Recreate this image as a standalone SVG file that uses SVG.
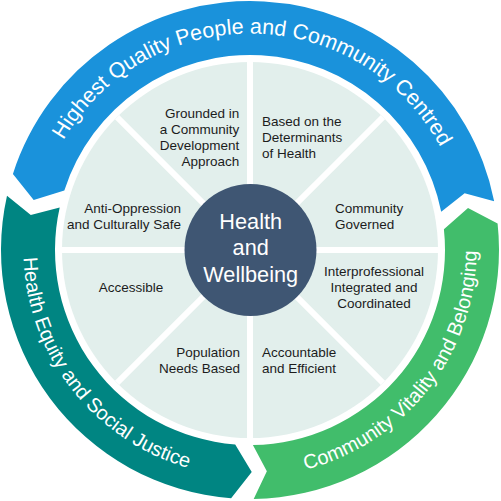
<svg xmlns="http://www.w3.org/2000/svg" width="501" height="501" viewBox="0 0 501 501">
<style>
.lbl{font-family:"Liberation Sans",Arial,sans-serif;font-size:13.5px;fill:#1c1c1c}
.ring{font-family:"Liberation Sans",Arial,sans-serif;fill:#ffffff}
.rb{font-size:21.5px}
.rs{font-size:20px}
.ctr{font-family:"Liberation Sans",Arial,sans-serif;font-size:21.7px;fill:#ffffff;text-anchor:middle}
.div{stroke:#ffffff;stroke-width:6}
</style>
<defs>
<path id="tpBlue" d="M 37.48 208.69 A 216.5 216.5 0 0 1 463.83 216.13"/>
<path id="tpTeal" d="M 57.92 129.97 A 226.5 226.5 0 0 0 319.99 465.41"/>
<path id="tpGreen" d="M 180.01 465.41 A 226.5 226.5 0 0 0 442.08 129.97"/>
</defs>
<rect width="501" height="501" fill="#ffffff"/>
<g id="ring-blue">
<path fill="#1a92db" d="M 494.17 201.21 A 249 249 0 0 0 12.92 173.88 L 33.69 200.06 L 64.33 190.39 A 195 195 0 0 1 441.22 211.79 L 464.63 193.29 Z"/>
<text class="ring rb"><textPath href="#tpBlue" startOffset="73.47">Highest</textPath></text>
<text class="ring rb"><textPath href="#tpBlue" startOffset="152.33">Quality</textPath></text>
<text class="ring rb"><textPath href="#tpBlue" startOffset="225.22">People</textPath></text>
<text class="ring rb"><textPath href="#tpBlue" startOffset="298.12">and</textPath></text>
<text class="ring rb"><textPath href="#tpBlue" startOffset="339.96">Community</textPath></text>
<text class="ring rb"><textPath href="#tpBlue" startOffset="454.64">Centred</textPath></text>
</g>
<g id="ring-teal">
<path fill="#008582" d="M 7.00 195.68 A 249 249 0 0 0 231.11 498.28 L 251.74 471.99 L 235.21 444.44 A 195 195 0 0 1 59.70 207.46 L 30.79 214.89 Z"/>
<text class="ring rs"><textPath href="#tpTeal" startOffset="133.88">Health</textPath></text>
<text class="ring rs"><textPath href="#tpTeal" startOffset="197.24">Equity</textPath></text>
<text class="ring rs"><textPath href="#tpTeal" startOffset="258.38">and</textPath></text>
<text class="ring rs"><textPath href="#tpTeal" startOffset="297.30">Social</textPath></text>
<text class="ring rs"><textPath href="#tpTeal" startOffset="357.32">Justice</textPath></text>
</g>
<g id="ring-green">
<path fill="#41bd6b" d="M 253.69 498.97 A 249 249 0 0 0 497.59 223.54 L 468.0 208.02 L 443.90 229.28 A 195 195 0 0 1 252.89 444.98 L 266.84 471.36 Z"/>
<text class="ring rs"><textPath href="#tpGreen" startOffset="127.22">Community</textPath></text>
<text class="ring rs"><textPath href="#tpGreen" startOffset="233.90">Vitality</textPath></text>
<text class="ring rs"><textPath href="#tpGreen" startOffset="298.36">and</textPath></text>
<text class="ring rs"><textPath href="#tpGreen" startOffset="337.28">Belonging</textPath></text>
</g>
<g id="wheel">
<circle cx="250" cy="250" r="188" fill="#e2efec"/>
</g>
<g id="dividers">
<line class="div" x1="250" y1="62" x2="250" y2="438"/>
<line class="div" x1="62" y1="250" x2="438" y2="250"/>
<line class="div" x1="117.06" y1="117.06" x2="382.94" y2="382.94"/>
<line class="div" x1="382.94" y1="117.06" x2="117.06" y2="382.94"/>
</g>
<g id="seg-grounded">
<text class="lbl" text-anchor="end"><tspan x="239.3" y="118.3">Grounded in</tspan><tspan x="239.3" y="134.3">a Community</tspan><tspan x="239.3" y="150">Development</tspan><tspan x="239.3" y="165.7">Approach</tspan></text>
</g>
<g id="seg-determinants">
<text class="lbl"><tspan x="262" y="125.7">Based on the</tspan><tspan x="262" y="141.7">Determinants</tspan><tspan x="262" y="157.7">of Health</tspan></text>
</g>
<g id="seg-governed">
<text class="lbl"><tspan x="335" y="213.3">Community</tspan><tspan x="335" y="229.3">Governed</tspan></text>
</g>
<g id="seg-interprofessional">
<text class="lbl" text-anchor="middle"><tspan x="374" y="276">Interprofessional</tspan><tspan x="374" y="291.7">Integrated and</tspan><tspan x="374" y="307.7">Coordinated</tspan></text>
</g>
<g id="seg-accountable">
<text class="lbl"><tspan x="262" y="356.7">Accountable</tspan><tspan x="262" y="372.7">and Efficient</tspan></text>
</g>
<g id="seg-population">
<text class="lbl" text-anchor="end"><tspan x="240" y="356.7">Population</tspan><tspan x="240" y="372.7">Needs Based</tspan></text>
</g>
<g id="seg-accessible">
<text class="lbl" text-anchor="middle" x="131" y="292.3">Accessible</text>
</g>
<g id="seg-antioppression">
<text class="lbl" text-anchor="end"><tspan x="181" y="213.3">Anti-Oppression</tspan><tspan x="181" y="229.3">and Culturally Safe</tspan></text>
</g>
<g id="center">
<circle cx="250.5" cy="250" r="66" fill="#3f5673"/>
<text class="ctr"><tspan x="250.7" y="228.5">Health</tspan><tspan x="250.7" y="255">and</tspan><tspan x="250.7" y="281.5">Wellbeing</tspan></text>
</g>
</svg>
